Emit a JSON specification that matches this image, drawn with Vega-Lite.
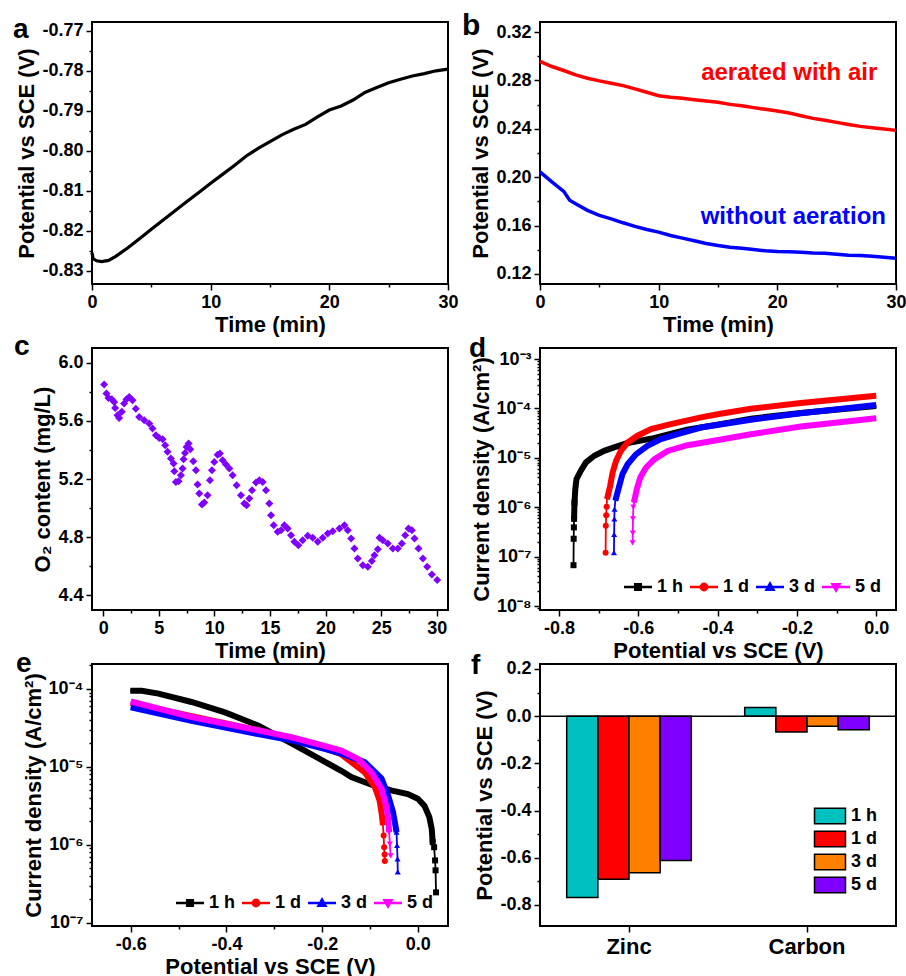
{
"$schema": "https://vega.github.io/schema/vega-lite/v6.json",
"background": "white",
"padding": {"left": 12, "top": 10, "right": 0, "bottom": 0},
"datasets": {
"a": [{"t":0,"v":-0.8255},{"t":0.1,"v":-0.827},{"t":0.4,"v":-0.8275},{"t":0.8,"v":-0.8277},{"t":1.4,"v":-0.8274},{"t":2,"v":-0.8264},{"t":3,"v":-0.8243},{"t":4,"v":-0.822},{"t":5,"v":-0.8196},{"t":6,"v":-0.8173},{"t":7,"v":-0.815},{"t":8,"v":-0.8127},{"t":9,"v":-0.8104},{"t":10,"v":-0.8081},{"t":11,"v":-0.8059},{"t":12,"v":-0.8037},{"t":13,"v":-0.8013},{"t":14,"v":-0.7994},{"t":15,"v":-0.7977},{"t":16,"v":-0.796},{"t":17,"v":-0.7946},{"t":18,"v":-0.7934},{"t":19,"v":-0.7915},{"t":20,"v":-0.7898},{"t":21,"v":-0.7888},{"t":22,"v":-0.7873},{"t":23,"v":-0.7854},{"t":24,"v":-0.7842},{"t":25,"v":-0.783},{"t":26,"v":-0.7821},{"t":27,"v":-0.7813},{"t":28,"v":-0.7807},{"t":29,"v":-0.78},{"t":30,"v":-0.7796}],
"b": [
{"t":0,"v":0.2957,"series":"aerated with air"},{"t":1,"v":0.2915,"series":"aerated with air"},{"t":2,"v":0.2882,"series":"aerated with air"},{"t":3,"v":0.2846,"series":"aerated with air"},{"t":4,"v":0.2818,"series":"aerated with air"},{"t":5,"v":0.2796,"series":"aerated with air"},{"t":6,"v":0.2777,"series":"aerated with air"},{"t":7,"v":0.2757,"series":"aerated with air"},{"t":8,"v":0.273,"series":"aerated with air"},{"t":9,"v":0.2702,"series":"aerated with air"},{"t":10,"v":0.2674,"series":"aerated with air"},{"t":11,"v":0.2661,"series":"aerated with air"},{"t":12,"v":0.2652,"series":"aerated with air"},{"t":13,"v":0.2641,"series":"aerated with air"},{"t":14,"v":0.263,"series":"aerated with air"},{"t":15,"v":0.2619,"series":"aerated with air"},{"t":16,"v":0.2602,"series":"aerated with air"},{"t":17,"v":0.2591,"series":"aerated with air"},{"t":18,"v":0.2575,"series":"aerated with air"},{"t":19,"v":0.2561,"series":"aerated with air"},{"t":20,"v":0.2547,"series":"aerated with air"},{"t":21,"v":0.2531,"series":"aerated with air"},{"t":22,"v":0.2508,"series":"aerated with air"},{"t":23,"v":0.2486,"series":"aerated with air"},{"t":24,"v":0.247,"series":"aerated with air"},{"t":25,"v":0.2453,"series":"aerated with air"},{"t":26,"v":0.2436,"series":"aerated with air"},{"t":27,"v":0.242,"series":"aerated with air"},{"t":28,"v":0.2409,"series":"aerated with air"},{"t":29,"v":0.2398,"series":"aerated with air"},{"t":30,"v":0.2387,"series":"aerated with air"},
{"t":0,"v":0.2044,"series":"without aeration"},{"t":0.5,"v":0.2002,"series":"without aeration"},{"t":1,"v":0.1961,"series":"without aeration"},{"t":2,"v":0.1883,"series":"without aeration"},{"t":2.5,"v":0.1809,"series":"without aeration"},{"t":3,"v":0.1781,"series":"without aeration"},{"t":4,"v":0.1726,"series":"without aeration"},{"t":5,"v":0.1684,"series":"without aeration"},{"t":6,"v":0.1656,"series":"without aeration"},{"t":7,"v":0.1623,"series":"without aeration"},{"t":8,"v":0.1593,"series":"without aeration"},{"t":9,"v":0.1568,"series":"without aeration"},{"t":10,"v":0.1546,"series":"without aeration"},{"t":11,"v":0.1518,"series":"without aeration"},{"t":12,"v":0.1496,"series":"without aeration"},{"t":13,"v":0.1474,"series":"without aeration"},{"t":14,"v":0.1452,"series":"without aeration"},{"t":15,"v":0.1435,"series":"without aeration"},{"t":16,"v":0.1421,"series":"without aeration"},{"t":17,"v":0.1413,"series":"without aeration"},{"t":18,"v":0.1402,"series":"without aeration"},{"t":19,"v":0.1391,"series":"without aeration"},{"t":20,"v":0.1385,"series":"without aeration"},{"t":21,"v":0.1383,"series":"without aeration"},{"t":22,"v":0.138,"series":"without aeration"},{"t":23,"v":0.1374,"series":"without aeration"},{"t":24,"v":0.1372,"series":"without aeration"},{"t":25,"v":0.1363,"series":"without aeration"},{"t":26,"v":0.1355,"series":"without aeration"},{"t":27,"v":0.1352,"series":"without aeration"},{"t":28,"v":0.1347,"series":"without aeration"},{"t":29,"v":0.1338,"series":"without aeration"},{"t":30,"v":0.133,"series":"without aeration"}],
"bl": [{"t":21,"v":0.2804,"series":"aerated with air"},{"t":21.35,"v":0.1615,"series":"without aeration"}],
"c": [{"t":0.09,"v":5.851},{"t":0.3,"v":5.789},{"t":0.48,"v":5.759},{"t":0.78,"v":5.749},{"t":0.99,"v":5.731},{"t":1.08,"v":5.69},{"t":1.29,"v":5.639},{"t":1.44,"v":5.621},{"t":1.68,"v":5.663},{"t":1.89,"v":5.72},{"t":2.1,"v":5.75},{"t":2.34,"v":5.766},{"t":2.64,"v":5.742},{"t":2.94,"v":5.685},{"t":3.24,"v":5.628},{"t":3.69,"v":5.605},{"t":4.14,"v":5.582},{"t":4.44,"v":5.548},{"t":4.74,"v":5.501},{"t":5.04,"v":5.483},{"t":5.34,"v":5.474},{"t":5.58,"v":5.432},{"t":5.79,"v":5.387},{"t":6.09,"v":5.341},{"t":6.33,"v":5.306},{"t":6.4,"v":5.253},{"t":6.54,"v":5.18},{"t":6.78,"v":5.185},{"t":6.99,"v":5.226},{"t":7.14,"v":5.272},{"t":7.23,"v":5.336},{"t":7.36,"v":5.38},{"t":7.5,"v":5.421},{"t":7.68,"v":5.444},{"t":7.83,"v":5.405},{"t":8.1,"v":5.322},{"t":8.34,"v":5.26},{"t":8.49,"v":5.162},{"t":8.64,"v":5.1},{"t":8.88,"v":5.024},{"t":9.09,"v":5.038},{"t":9.39,"v":5.088},{"t":9.6,"v":5.191},{"t":9.78,"v":5.26},{"t":9.99,"v":5.318},{"t":10.29,"v":5.368},{"t":10.5,"v":5.375},{"t":10.74,"v":5.329},{"t":11.04,"v":5.3},{"t":11.34,"v":5.272},{"t":11.64,"v":5.226},{"t":12.0,"v":5.157},{"t":12.39,"v":5.088},{"t":12.69,"v":5.031},{"t":12.9,"v":5.019},{"t":13.14,"v":5.065},{"t":13.38,"v":5.123},{"t":13.74,"v":5.176},{"t":14.04,"v":5.191},{"t":14.34,"v":5.18},{"t":14.64,"v":5.123},{"t":14.94,"v":5.031},{"t":15.09,"v":4.95},{"t":15.33,"v":4.881},{"t":15.69,"v":4.836},{"t":15.99,"v":4.847},{"t":16.29,"v":4.881},{"t":16.59,"v":4.859},{"t":16.89,"v":4.813},{"t":17.19,"v":4.767},{"t":17.55,"v":4.744},{"t":17.94,"v":4.778},{"t":18.39,"v":4.809},{"t":18.84,"v":4.795},{"t":19.29,"v":4.767},{"t":19.74,"v":4.795},{"t":20.19,"v":4.824},{"t":20.64,"v":4.84},{"t":21.24,"v":4.859},{"t":21.69,"v":4.881},{"t":21.99,"v":4.847},{"t":22.29,"v":4.79},{"t":22.59,"v":4.721},{"t":22.89,"v":4.652},{"t":23.34,"v":4.606},{"t":23.79,"v":4.595},{"t":24.15,"v":4.634},{"t":24.39,"v":4.675},{"t":24.69,"v":4.716},{"t":24.84,"v":4.795},{"t":25.14,"v":4.778},{"t":25.59,"v":4.755},{"t":26.04,"v":4.721},{"t":26.49,"v":4.721},{"t":26.85,"v":4.755},{"t":27.15,"v":4.813},{"t":27.45,"v":4.859},{"t":27.75,"v":4.847},{"t":27.99,"v":4.79},{"t":28.35,"v":4.721},{"t":28.74,"v":4.652},{"t":29.13,"v":4.595},{"t":29.55,"v":4.542},{"t":30.03,"v":4.503}],
"d": [
{"V":-0.7635,"j":6.7e-8,"s":"1 h"},{"V":-0.763,"j":2.3e-7,"s":"1 h"},{"V":-0.7625,"j":3.9e-7,"s":"1 h"},{"V":-0.762,"j":5.8e-7,"s":"1 h"},{"V":-0.761,"j":1.24e-6,"s":"1 h"},{"V":-0.759,"j":2.3e-6,"s":"1 h"},{"V":-0.756,"j":3.7e-6,"s":"1 h"},{"V":-0.745,"j":5.5e-6,"s":"1 h"},{"V":-0.732,"j":8.1e-6,"s":"1 h"},{"V":-0.711,"j":1.1e-5,"s":"1 h"},{"V":-0.686,"j":1.38e-5,"s":"1 h"},{"V":-0.661,"j":1.62e-5,"s":"1 h"},{"V":-0.627,"j":2.0e-5,"s":"1 h"},{"V":-0.561,"j":2.5e-5,"s":"1 h"},{"V":-0.477,"j":3.7e-5,"s":"1 h"},{"V":-0.393,"j":4.8e-5,"s":"1 h"},{"V":-0.316,"j":6.2e-5,"s":"1 h"},{"V":-0.19,"j":8.1e-5,"s":"1 h"},{"V":0.0,"j":1.12e-4,"s":"1 h"},
{"V":-0.6825,"j":1.2e-7,"s":"1 d"},{"V":-0.682,"j":4.2e-7,"s":"1 d"},{"V":-0.681,"j":6.9e-7,"s":"1 d"},{"V":-0.68,"j":1.02e-6,"s":"1 d"},{"V":-0.679,"j":1.45e-6,"s":"1 d"},{"V":-0.671,"j":2.7e-6,"s":"1 d"},{"V":-0.665,"j":5.0e-6,"s":"1 d"},{"V":-0.656,"j":8.7e-6,"s":"1 d"},{"V":-0.644,"j":1.38e-5,"s":"1 d"},{"V":-0.627,"j":2.04e-5,"s":"1 d"},{"V":-0.602,"j":2.8e-5,"s":"1 d"},{"V":-0.568,"j":3.8e-5,"s":"1 d"},{"V":-0.518,"j":4.8e-5,"s":"1 d"},{"V":-0.442,"j":6.6e-5,"s":"1 d"},{"V":-0.393,"j":7.8e-5,"s":"1 d"},{"V":-0.316,"j":9.8e-5,"s":"1 d"},{"V":-0.19,"j":1.29e-4,"s":"1 d"},{"V":0.0,"j":1.8e-4,"s":"1 d"},
{"V":-0.6615,"j":1.2e-7,"s":"3 d"},{"V":-0.661,"j":2.8e-7,"s":"3 d"},{"V":-0.6605,"j":5.8e-7,"s":"3 d"},{"V":-0.66,"j":9.1e-7,"s":"3 d"},{"V":-0.658,"j":1.35e-6,"s":"3 d"},{"V":-0.648,"j":2.7e-6,"s":"3 d"},{"V":-0.64,"j":4.7e-6,"s":"3 d"},{"V":-0.627,"j":7.4e-6,"s":"3 d"},{"V":-0.606,"j":1.17e-5,"s":"3 d"},{"V":-0.577,"j":1.74e-5,"s":"3 d"},{"V":-0.543,"j":2.4e-5,"s":"3 d"},{"V":-0.501,"j":3.0e-5,"s":"3 d"},{"V":-0.442,"j":4.1e-5,"s":"3 d"},{"V":-0.316,"j":5.9e-5,"s":"3 d"},{"V":-0.19,"j":8.0e-5,"s":"3 d"},{"V":0.0,"j":1.17e-4,"s":"3 d"},
{"V":-0.6145,"j":1.9e-7,"s":"5 d"},{"V":-0.614,"j":3.0e-7,"s":"5 d"},{"V":-0.6135,"j":5.8e-7,"s":"5 d"},{"V":-0.6125,"j":1.0e-6,"s":"5 d"},{"V":-0.611,"j":1.25e-6,"s":"5 d"},{"V":-0.604,"j":2.3e-6,"s":"5 d"},{"V":-0.595,"j":4.0e-6,"s":"5 d"},{"V":-0.581,"j":6.3e-6,"s":"5 d"},{"V":-0.56,"j":9.3e-6,"s":"5 d"},{"V":-0.526,"j":1.38e-5,"s":"5 d"},{"V":-0.476,"j":1.8e-5,"s":"5 d"},{"V":-0.442,"j":2.0e-5,"s":"5 d"},{"V":-0.316,"j":3.0e-5,"s":"5 d"},{"V":-0.19,"j":4.3e-5,"s":"5 d"},{"V":0.0,"j":6.3e-5,"s":"5 d"}],
"e": [
{"V":-0.601,"j":9.5e-5,"s":"1 h"},{"V":-0.577,"j":9.5e-5,"s":"1 h"},{"V":-0.542,"j":8.7e-5,"s":"1 h"},{"V":-0.473,"j":6.8e-5,"s":"1 h"},{"V":-0.403,"j":5.0e-5,"s":"1 h"},{"V":-0.334,"j":3.4e-5,"s":"1 h"},{"V":-0.264,"j":2.0e-5,"s":"1 h"},{"V":-0.195,"j":1.17e-5,"s":"1 h"},{"V":-0.16,"j":8.9e-6,"s":"1 h"},{"V":-0.139,"j":7.4e-6,"s":"1 h"},{"V":-0.097,"j":5.9e-6,"s":"1 h"},{"V":-0.056,"j":5.0e-6,"s":"1 h"},{"V":-0.021,"j":4.47e-6,"s":"1 h"},{"V":0.0,"j":3.9e-6,"s":"1 h"},{"V":0.014,"j":3.16e-6,"s":"1 h"},{"V":0.024,"j":2.26e-6,"s":"1 h"},{"V":0.029,"j":1.6e-6,"s":"1 h"},{"V":0.031,"j":1.08e-6,"s":"1 h"},{"V":0.034,"j":9.3e-7,"s":"1 h"},{"V":0.036,"j":6.3e-7,"s":"1 h"},{"V":0.037,"j":4.7e-7,"s":"1 h"},{"V":0.038,"j":2.45e-7,"s":"1 h"},
{"V":-0.6,"j":6.6e-5,"s":"1 d"},{"V":-0.473,"j":4.47e-5,"s":"1 d"},{"V":-0.334,"j":2.95e-5,"s":"1 d"},{"V":-0.264,"j":2.29e-5,"s":"1 d"},{"V":-0.195,"j":1.74e-5,"s":"1 d"},{"V":-0.16,"j":1.45e-5,"s":"1 d"},{"V":-0.139,"j":1.15e-5,"s":"1 d"},{"V":-0.111,"j":8.5e-6,"s":"1 d"},{"V":-0.09,"j":5.5e-6,"s":"1 d"},{"V":-0.08,"j":3.7e-6,"s":"1 d"},{"V":-0.075,"j":2.37e-6,"s":"1 d"},{"V":-0.073,"j":1.78e-6,"s":"1 d"},{"V":-0.0715,"j":1.32e-6,"s":"1 d"},{"V":-0.0705,"j":9.3e-7,"s":"1 d"},{"V":-0.0695,"j":7.5e-7,"s":"1 d"},{"V":-0.069,"j":6.2e-7,"s":"1 d"},
{"V":-0.6,"j":5.8e-5,"s":"3 d"},{"V":-0.473,"j":3.9e-5,"s":"3 d"},{"V":-0.334,"j":2.63e-5,"s":"3 d"},{"V":-0.264,"j":2.19e-5,"s":"3 d"},{"V":-0.195,"j":1.7e-5,"s":"3 d"},{"V":-0.16,"j":1.48e-5,"s":"3 d"},{"V":-0.111,"j":1.15e-5,"s":"3 d"},{"V":-0.076,"j":7.1e-6,"s":"3 d"},{"V":-0.062,"j":4.27e-6,"s":"3 d"},{"V":-0.052,"j":2.63e-6,"s":"3 d"},{"V":-0.047,"j":1.78e-6,"s":"3 d"},{"V":-0.0445,"j":1.45e-6,"s":"3 d"},{"V":-0.0435,"j":9.8e-7,"s":"3 d"},{"V":-0.0425,"j":6.6e-7,"s":"3 d"},{"V":-0.042,"j":4.5e-7,"s":"3 d"},
{"V":-0.6,"j":6.9e-5,"s":"5 d"},{"V":-0.473,"j":4.37e-5,"s":"5 d"},{"V":-0.334,"j":2.95e-5,"s":"5 d"},{"V":-0.264,"j":2.4e-5,"s":"5 d"},{"V":-0.195,"j":1.86e-5,"s":"5 d"},{"V":-0.16,"j":1.62e-5,"s":"5 d"},{"V":-0.125,"j":1.26e-5,"s":"5 d"},{"V":-0.097,"j":8.5e-6,"s":"5 d"},{"V":-0.076,"j":5.25e-6,"s":"5 d"},{"V":-0.066,"j":3.16e-6,"s":"5 d"},{"V":-0.062,"j":2.14e-6,"s":"5 d"},{"V":-0.06,"j":1.45e-6,"s":"5 d"},{"V":-0.0585,"j":1.02e-6,"s":"5 d"},{"V":-0.057,"j":7.2e-7,"s":"5 d"}],
"f": [{"el":"Zinc","time":"1 h","v":-0.768},{"el":"Zinc","time":"1 d","v":-0.691},{"el":"Zinc","time":"3 d","v":-0.663},{"el":"Zinc","time":"5 d","v":-0.612},{"el":"Carbon","time":"1 h","v":0.037},{"el":"Carbon","time":"1 d","v":-0.067},{"el":"Carbon","time":"3 d","v":-0.043},{"el":"Carbon","time":"5 d","v":-0.058}]
},
"vconcat": [
{"vconcat": [
{"hconcat": [
{
"width": 356, "height": 262,
"title": {"text":"a","anchor":"start","frame":"group","offset":-44,"dx":-79,"baseline":"alphabetic","fontSize":28,"fontWeight":"bold","color":"black"},
"data": {"name":"a"},
"mark": {"type":"line","color":"black","strokeWidth":3.2},
"encoding": {
"x": {"field":"t","type":"quantitative","scale":{"domain":[0,30],"nice":false,"zero":false},
 "axis":{"title":"Time (min)","values":[0,5,10,15,20,25,30],"labelExpr":"datum.value%10===0 ? format(datum.value,'d') : ''","tickSize":{"condition":{"test":"datum.value%10===0","value":6},"value":3}}},
"y": {"field":"v","type":"quantitative","scale":{"domain":[-0.8333,-0.7678],"nice":false,"zero":false},
 "axis":{"title":"Potential vs SCE (V)","values":[-0.83,-0.825,-0.82,-0.815,-0.81,-0.805,-0.8,-0.795,-0.79,-0.785,-0.78,-0.775,-0.77],"labelExpr":"abs(round(datum.value*1000))%10===0 ? format(datum.value,'.2f') : ''","tickSize":{"condition":{"test":"abs(round(datum.value*1000))%10===0","value":6},"value":3}}}
}
},
{
"width": 356, "height": 262,
"title": {"text":"b","anchor":"start","frame":"group","offset":-43,"dx":-78,"baseline":"alphabetic","fontSize":30,"fontWeight":"bold","color":"black"},
"encoding": {
"x": {"field":"t","type":"quantitative","scale":{"domain":[0,30],"nice":false,"zero":false},
 "axis":{"title":"Time (min)","values":[0,5,10,15,20,25,30],"labelExpr":"datum.value%10===0 ? format(datum.value,'d') : ''","tickSize":{"condition":{"test":"datum.value%10===0","value":6},"value":3}}},
"y": {"field":"v","type":"quantitative","scale":{"domain":[0.1117,0.3283],"nice":false,"zero":false},
 "axis":{"title":"Potential vs SCE (V)","values":[0.12,0.14,0.16,0.18,0.2,0.22,0.24,0.26,0.28,0.3,0.32],"labelExpr":"round(datum.value*100)%4===0 ? format(datum.value,'.2f') : ''","tickSize":{"condition":{"test":"round(datum.value*100)%4===0","value":6},"value":3}}},
"color": {"field":"series","type":"nominal","scale":{"domain":["aerated with air","without aeration"],"range":["#FF0000","#0000FF"]},"legend":null}
},
"layer": [
{"data":{"name":"b"},"mark":{"type":"line","strokeWidth":3.5}},
{"data":{"name":"bl"},"mark":{"type":"text","fontSize":24,"fontWeight":"bold","align":"center","baseline":"alphabetic"},"encoding":{"text":{"field":"series"}}}
]
}
], "spacing": 92, "bounds": "flush", "resolve": {"scale": {"color": "independent", "shape": "independent"}}},
{"hconcat": [
{
"width": 356, "height": 262,
"title": {"text":"c","anchor":"start","frame":"group","offset":-35,"dx":-78,"baseline":"alphabetic","fontSize":28,"fontWeight":"bold","color":"black"},
"data": {"name":"c"},
"mark": {"type":"point","shape":"diamond","filled":true,"color":"#8000FF","size":64,"opacity":1},
"encoding": {
"x": {"field":"t","type":"quantitative","scale":{"domain":[-1,31],"nice":false,"zero":false},
 "axis":{"title":"Time (min)","values":[0,2.5,5,7.5,10,12.5,15,17.5,20,22.5,25,27.5,30],"labelExpr":"datum.value%5===0 ? format(datum.value,'d') : ''","tickSize":{"condition":{"test":"datum.value%5===0","value":6},"value":3}}},
"y": {"field":"v","type":"quantitative","scale":{"domain":[4.297,6.103],"nice":false,"zero":false},
 "axis":{"title":"O₂ content (mg/L)","values":[4.4,4.6,4.8,5.0,5.2,5.4,5.6,5.8,6.0],"labelExpr":"round(datum.value*10)%4===0 ? format(datum.value,'.1f') : ''","tickSize":{"condition":{"test":"round(datum.value*10)%4===0","value":6},"value":3}}}
}
},
{
"width": 356, "height": 262,
"title": {"text":"d","anchor":"start","frame":"group","offset":-37,"dx":-71,"baseline":"alphabetic","fontSize":28,"fontWeight":"bold","color":"black"},
"data": {"name":"d"},
"encoding": {
"x": {"field":"V","type":"quantitative","scale":{"domain":[-0.848,0.05],"nice":false,"zero":false},
 "axis":{"title":"Potential vs SCE (V)","values":[-0.8,-0.7,-0.6,-0.5,-0.4,-0.3,-0.2,-0.1,0],"labelExpr":"round(datum.value*10)%2===0 ? format(datum.value,'.1f') : ''","tickSize":{"condition":{"test":"round(datum.value*10)%2===0","value":6},"value":3}}},
"y": {"field":"j","type":"quantitative","scale":{"type":"log","domain":[8.3e-9,1.67e-3],"nice":false},
 "axis":{"title":"Current density (A/cm²)","values":[9e-9,1e-8,2e-8,3e-8,4e-8,5e-8,6e-8,7e-8,8e-8,9e-8,1e-7,2e-7,3e-7,4e-7,5e-7,6e-7,7e-7,8e-7,9e-7,1e-6,2e-6,3e-6,4e-6,5e-6,6e-6,7e-6,8e-6,9e-6,1e-5,2e-5,3e-5,4e-5,5e-5,6e-5,7e-5,8e-5,9e-5,1e-4,2e-4,3e-4,4e-4,5e-4,6e-4,7e-4,8e-4,9e-4,1e-3],
 "labelExpr":"abs(log(datum.value)/LN10 - round(log(datum.value)/LN10)) < 0.01 ? '10⁻' + ['⁰','¹','²','³','⁴','⁵','⁶','⁷','⁸','⁹'][-round(log(datum.value)/LN10)] : ''",
 "tickSize":{"condition":{"test":"abs(log(datum.value)/LN10 - round(log(datum.value)/LN10)) < 0.01","value":6},"value":3}}},
"color": {"field":"s","type":"nominal","scale":{"domain":["1 h","1 d","3 d","5 d"],"range":["#000000","#FF0000","#0000FF","#FF00FF"]},"legend":null}
},
"layer": [
{"mark":{"type":"line","strokeWidth":1.8},
 "encoding":{"color":{"field":"s","type":"nominal","scale":{"domain":["1 h","1 d","3 d","5 d"],"range":["#000000","#FF0000","#0000FF","#FF00FF"]},
  "legend":{"title":null,"orient":"bottom-right","direction":"horizontal","offset":14,"symbolSize":196,"labelOffset":10,"columnPadding":1,"labelFontSize":18,"labelFontWeight":"bold",
   "encode":{"symbols":{"update":{
    "shape":{"signal":"datum.value==='1 h'?'M-2,0H2M-0.4,-0.4H0.4V0.4H-0.4Z':datum.value==='1 d'?'M-2,0H2M0.45,0A0.45,0.45,0,1,1,-0.45,0A0.45,0.45,0,1,1,0.45,0Z':datum.value==='3 d'?'M-2,0H2M0,-0.5L0.5,0.4H-0.5Z':'M-2,0H2M0,0.5L0.5,-0.4H-0.5Z'"},
    "fill":{"signal":"datum.value==='1 h'?'#000000':datum.value==='1 d'?'#FF0000':datum.value==='3 d'?'#0000FF':'#FF00FF'"},
    "stroke":{"signal":"datum.value==='1 h'?'#000000':datum.value==='1 d'?'#FF0000':datum.value==='3 d'?'#0000FF':'#FF00FF'"},
    "strokeWidth":{"value":2.5},"opacity":{"value":1}}}}}}}},
{"transform":[{"filter":"datum.j >= 1.2e-6 || (datum.s === '1 h' && datum.j >= 5e-7)"}],"mark":{"type":"line","strokeWidth":6}},
{"transform":[{"filter":"datum.j < 1.3e-6 && datum.s === '1 h'"}],"mark":{"type":"point","shape":"square","filled":true,"size":36,"opacity":1}},
{"transform":[{"filter":"datum.j < 1.3e-6 && datum.s === '1 d'"}],"mark":{"type":"point","shape":"circle","filled":true,"size":36,"opacity":1}},
{"transform":[{"filter":"datum.j < 1.3e-6 && datum.s === '3 d'"}],"mark":{"type":"point","shape":"triangle-up","filled":true,"size":36,"opacity":1}},
{"transform":[{"filter":"datum.j < 1.3e-6 && datum.s === '5 d'"}],"mark":{"type":"point","shape":"triangle-down","filled":true,"size":36,"opacity":1}}
]
}
], "spacing": 92, "bounds": "flush", "resolve": {"scale": {"color": "independent", "shape": "independent"}}}
], "spacing": -4, "resolve": {"scale": {"color": "independent", "shape": "independent"}}},
{"hconcat": [
{
"width": 356, "height": 262,
"title": {"text":"e","anchor":"start","frame":"group","offset":-44,"dx":-76,"baseline":"alphabetic","fontSize":28,"fontWeight":"bold","color":"black"},
"data": {"name":"e"},
"encoding": {
"x": {"field":"V","type":"quantitative","scale":{"domain":[-0.681,0.063],"nice":false,"zero":false},
 "axis":{"title":"Potential vs SCE (V)","values":[-0.6,-0.5,-0.4,-0.3,-0.2,-0.1,0],"labelExpr":"round(datum.value*10)%2===0 ? format(datum.value,'.1f') : ''","tickSize":{"condition":{"test":"round(datum.value*10)%2===0","value":6},"value":3}}},
"y": {"field":"j","type":"quantitative","scale":{"type":"log","domain":[9.07e-8,2.09e-4],"nice":false},
 "axis":{"title":"Current density (A/cm²)","values":[1e-7,2e-7,3e-7,4e-7,5e-7,6e-7,7e-7,8e-7,9e-7,1e-6,2e-6,3e-6,4e-6,5e-6,6e-6,7e-6,8e-6,9e-6,1e-5,2e-5,3e-5,4e-5,5e-5,6e-5,7e-5,8e-5,9e-5,1e-4,2e-4],
 "labelExpr":"abs(log(datum.value)/LN10 - round(log(datum.value)/LN10)) < 0.01 ? '10⁻' + ['⁰','¹','²','³','⁴','⁵','⁶','⁷','⁸','⁹'][-round(log(datum.value)/LN10)] : ''",
 "tickSize":{"condition":{"test":"abs(log(datum.value)/LN10 - round(log(datum.value)/LN10)) < 0.01","value":6},"value":3}}},
"color": {"field":"s","type":"nominal","scale":{"domain":["1 h","1 d","3 d","5 d"],"range":["#000000","#FF0000","#0000FF","#FF00FF"]},"legend":null}
},
"layer": [
{"mark":{"type":"line","strokeWidth":1.8},
 "encoding":{"color":{"field":"s","type":"nominal","scale":{"domain":["1 h","1 d","3 d","5 d"],"range":["#000000","#FF0000","#0000FF","#FF00FF"]},
  "legend":{"title":null,"orient":"bottom-right","direction":"horizontal","offset":14,"symbolSize":196,"labelOffset":10,"columnPadding":1,"labelFontSize":18,"labelFontWeight":"bold",
   "encode":{"symbols":{"update":{
    "shape":{"signal":"datum.value==='1 h'?'M-2,0H2M-0.4,-0.4H0.4V0.4H-0.4Z':datum.value==='1 d'?'M-2,0H2M0.45,0A0.45,0.45,0,1,1,-0.45,0A0.45,0.45,0,1,1,0.45,0Z':datum.value==='3 d'?'M-2,0H2M0,-0.5L0.5,0.4H-0.5Z':'M-2,0H2M0,0.5L0.5,-0.4H-0.5Z'"},
    "fill":{"signal":"datum.value==='1 h'?'#000000':datum.value==='1 d'?'#FF0000':datum.value==='3 d'?'#0000FF':'#FF00FF'"},
    "stroke":{"signal":"datum.value==='1 h'?'#000000':datum.value==='1 d'?'#FF0000':datum.value==='3 d'?'#0000FF':'#FF00FF'"},
    "strokeWidth":{"value":2.5},"opacity":{"value":1}}}}}}}},
{"transform":[{"filter":"datum.j >= 1.4e-6 || (datum.s === '1 h' && datum.j >= 1e-6)"}],"mark":{"type":"line","strokeWidth":6}},
{"transform":[{"filter":"datum.j < 1.5e-6 && datum.s === '1 h'"}],"mark":{"type":"point","shape":"square","filled":true,"size":36,"opacity":1}},
{"transform":[{"filter":"datum.j < 1.5e-6 && datum.s === '1 d'"}],"mark":{"type":"point","shape":"circle","filled":true,"size":36,"opacity":1}},
{"transform":[{"filter":"datum.j < 1.5e-6 && datum.s === '3 d'"}],"mark":{"type":"point","shape":"triangle-up","filled":true,"size":36,"opacity":1}},
{"transform":[{"filter":"datum.j < 1.5e-6 && datum.s === '5 d'"}],"mark":{"type":"point","shape":"triangle-down","filled":true,"size":36,"opacity":1}}
]
},
{
"width": 356, "height": 262,
"title": {"text":"f","anchor":"start","frame":"group","offset":-42,"dx":-69,"baseline":"alphabetic","fontSize":28,"fontWeight":"bold","color":"black"},
"data": {"name":"f"},
"encoding": {
"y": {"field":"v","type":"quantitative","scale":{"domain":[-0.889,0.221],"nice":false},
 "axis":{"title":"Potential vs SCE (V)","values":[-0.8,-0.7,-0.6,-0.5,-0.4,-0.3,-0.2,-0.1,0,0.1,0.2],"labelExpr":"round(datum.value*10)%2===0 ? format(datum.value,'.1f') : ''","tickSize":{"condition":{"test":"round(datum.value*10)%2===0","value":6},"value":3}}}
},
"layer": [
{"mark":{"type":"bar","stroke":"black","strokeWidth":1.5},
 "encoding":{
  "x": {"field":"el","type":"nominal","sort":["Zinc","Carbon"],"scale":{"paddingInner":0.3,"paddingOuter":0.15},"axis":{"title":null,"labelFontSize":22,"labelAngle":0,"tickSize":6,"labelPadding":4}},
  "xOffset":{"field":"time","type":"nominal","scale":{"domain":["1 h","1 d","3 d","5 d"]}},
  "color":{"field":"time","type":"nominal","scale":{"domain":["1 h","1 d","3 d","5 d"],"range":["#00C0C0","#FF0000","#FF8000","#8000FF"]},
   "legend":{"title":null,"orient":"none","legendX":281,"legendY":143,"direction":"vertical","symbolType":"M-2,-1H2V1H-2Z","symbolSize":240,"symbolStrokeColor":"black","symbolStrokeWidth":1.5,"symbolOpacity":1,"labelOffset":12,"rowPadding":1,"labelFontSize":18,"labelFontWeight":"bold"}}}},
{"data":{"values":[{"z":0}]},"mark":{"type":"rule","color":"black","strokeWidth":1.5},"encoding":{"y":{"field":"z","type":"quantitative"}}}
]
}
], "spacing": 92, "bounds": "flush", "resolve": {"scale": {"color": "independent", "shape": "independent"}}}
],
"spacing": -13,
"resolve": {"scale": {"color": "independent", "shape": "independent"}},
"config": {
"font": "Liberation Sans",
"locale": {"number": {"decimal": ".", "thousands": ",", "grouping": [3], "currency": ["$", ""], "minus": "-"}},
"view": {"stroke": "black", "strokeWidth": 2},
"axis": {"labelFont":"Liberation Sans","labelFontWeight":"bold","labelFontSize":18,"labelColor":"black","titleFont":"Liberation Sans","titleFontWeight":"bold","titleFontSize":22,"titleColor":"black","tickColor":"black","tickWidth":1.5,"domain":false,"grid":false,"labelFlush":false,"labelOverlap":false,"labelPadding":3,"titlePadding":3},
"legend": {"labelFont":"Liberation Sans","labelColor":"black"},
"title": {"font":"Liberation Sans"}
}
}
